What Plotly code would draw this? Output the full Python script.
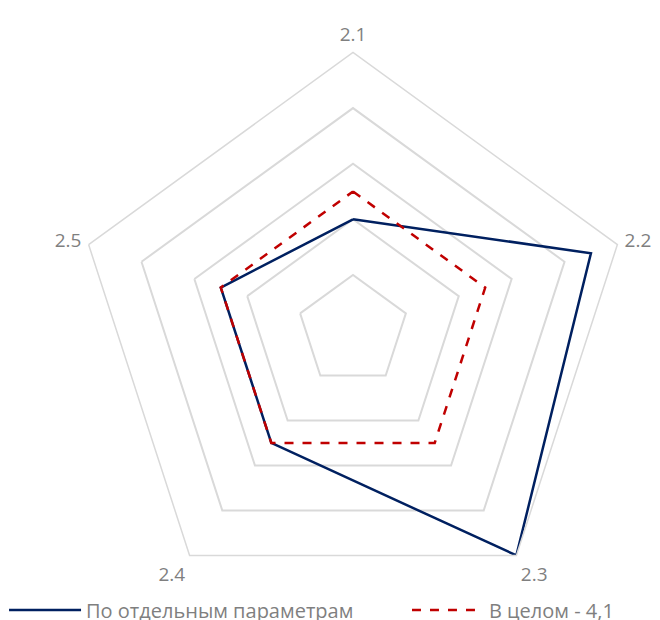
import plotly.graph_objects as go

categories = ["2.1", "2.2", "2.3", "2.4", "2.5"]
series_individual = [2.0, 4.5, 5.0, 2.5, 2.5]
series_overall = [2.5, 2.5, 2.5, 2.5, 2.5]
name_individual = "По отдельным параметрам"
name_overall = "В целом - 4,1"

def closed(v):
    return list(v) + [v[0]]

fig = go.Figure()
fig.add_trace(go.Scatterpolar(
    r=closed(series_individual), theta=closed(categories), mode="lines",
    name=name_individual, line=dict(color="#002060", width=2.5),
    legend="legend", showlegend=True))
fig.add_trace(go.Scatterpolar(
    r=closed(series_overall), theta=closed(categories), mode="lines",
    name=name_overall, line=dict(color="#C00000", width=2.5, dash="dash"),
    legend="legend2", showlegend=True))

W, H = 660, 620
cx, cy, R = 345, 322.5, 278
leg_common = dict(orientation="h", y=1 - 602 / H, yanchor="middle",
                  font=dict(size=20, color="#7f7f7f"), itemwidth=72,
                  bgcolor="rgba(0,0,0,0)", visible=True)
fig.update_layout(
    width=W, height=H,
    showlegend=True,
    margin=dict(l=0, r=0, t=0, b=0, autoexpand=False),
    paper_bgcolor="white",
    font=dict(family="Open Sans", color="#7f7f7f", size=16),
    polar=dict(
        domain=dict(x=[(cx - R) / W, (cx + R) / W], y=[1 - (cy + R) / H, 1 - (cy - R) / H]),
        gridshape="linear",
        bgcolor="white",
        radialaxis=dict(range=[0, 5], dtick=1, showticklabels=False, ticks="",
                        showline=False, gridcolor="#d9d9d9", gridwidth=1.5),
        angularaxis=dict(rotation=90, direction="clockwise", showgrid=False,
                         showline=True, linecolor="#d9d9d9", linewidth=1.5,
                         ticks="outside", ticklen=3, tickcolor="rgba(0,0,0,0)",
                         tickfont=dict(size=19, color="#7f7f7f")),
    ),
    legend=dict(x=-0.006, xanchor="left", **leg_common),
    legend2=dict(x=0.6045, xanchor="left", **leg_common),
)
fig.write_html("out.html")
